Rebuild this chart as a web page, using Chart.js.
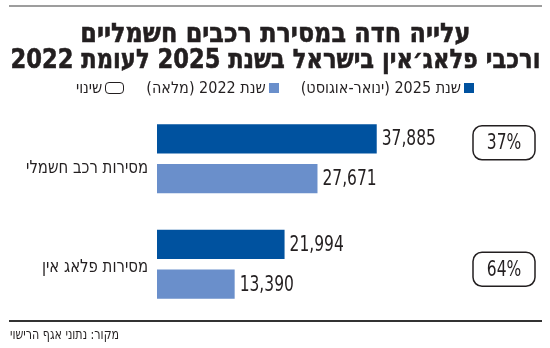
<!DOCTYPE html>
<html lang="he">
<head>
<meta charset="utf-8">
<script src="https://cdn.jsdelivr.net/npm/chart.js@4.4.0/dist/chart.umd.min.js"></script>
<style>
  body { margin: 0; background: #fff; }
  #wrap { position: relative; width: 550px; height: 348px; overflow: hidden; color: #231f20;
          font-family: 'DejaVu Sans Condensed', sans-serif; }
  #chart { position: absolute; left: 0; top: 0; }
  #topline { position: absolute; left: 9px; width: 533px; top: 5px; height: 2px; background: #9d9d9d; }
  .tline { position: absolute; left: -225px; width: 1000px; text-align: center; white-space: nowrap;
           font-family: 'DejaVu Sans', sans-serif; font-weight: bold; font-size: 27px; line-height: 28px;
           color: #231f20; -webkit-text-stroke: 0.6px #231f20; }
  .tline span { display: inline-block; transform-origin: center; }
  #legend { position: absolute; left: 0; width: 550px; top: 79px; display: flex; justify-content: center;
            gap: 22px; font-size: 16px; line-height: 18px; color: #231f20; }
  #legend .item { display: flex; align-items: center; gap: 3px; }
  #legend .sw { display: inline-block; width: 10px; height: 10px; }
  #legend .box { display: inline-block; width: 17px; height: 10px; border: 1.5px solid #231f20; border-radius: 4px; }
  #bottomline { position: absolute; left: 9px; width: 533px; top: 320px; height: 1.5px; background: #333; }
  #source { position: absolute; left: 10px; top: 326px; font-size: 14px; color: #231f20;
            transform: scaleX(0.88); transform-origin: left; }
</style>
</head>
<body>
<div id="wrap">
  <div id="topline"></div>
  <canvas id="chart" width="550" height="348"></canvas>
  <div class="tline" id="t1" dir="rtl" style="top:19px"><span>עלייה חדה במסירת רכבים חשמליים</span></div>
  <div class="tline" id="t2" dir="rtl" style="top:45px"><span>ורכבי פלאג׳אין בישראל בשנת 2025 לעומת 2022</span></div>
  <div id="legend" dir="rtl"></div>
  <div id="bottomline"></div>
  <div id="source" dir="rtl">מקור: נתוני אגף הרישוי</div>
</div>
<script>
// data
const categories = ['מסירות רכב חשמלי', 'מסירות פלאג אין'];
const seriesNames = ['שנת 2025 (ינואר-אוגוסט)', 'שנת 2022 (מלאה)'];
const values2025 = [37885, 21994];
const values2022 = [27671, 13390];
const changeLabels = ['37%', '64%'];
const changeName = 'שינוי';

const colors = ['#00529f', '#6a8fcb'];
const numFont = "'DejaVu Sans Condensed', sans-serif";

// squeeze the title lines to the width of the original (its font is narrower than DejaVu)
const titleWidths = { t1: 390, t2: 530 };
Object.keys(titleWidths).forEach(id => {
    const s = document.querySelector('#' + id + ' span');
    const w = s.getBoundingClientRect().width;
    s.style.transform = 'scaleX(' + (titleWidths[id] / w) + ')';
});

// legend
const legendEl = document.getElementById('legend');
seriesNames.forEach((name, i) => {
    const item = document.createElement('span');
    item.className = 'item';
    item.innerHTML = '<i class="sw" style="background:' + colors[i] + '"></i><span>' + name + '</span>';
    legendEl.appendChild(item);
});
const chItem = document.createElement('span');
chItem.className = 'item';
chItem.innerHTML = '<i class="box"></i><span>' + changeName + '</span>';
legendEl.appendChild(chItem);

// the group labels and change boxes sit a little off the group centre in the original
const catNudge = [10, 3];
const boxNudge = [-16, 5];

function narrowText(ctx, text, x, y, sx) {
    ctx.save();
    ctx.translate(x, y);
    ctx.scale(sx, 1);
    ctx.fillText(text, 0, 0);
    ctx.restore();
}

const labelsPlugin = {
    id: 'labels',
    afterDatasetsDraw(chart) {
        const ctx = chart.ctx;
        const yScale = chart.scales.y;
        ctx.save();
        ctx.fillStyle = '#231f20';
        ctx.textBaseline = 'middle';

        // value labels at the end of each bar
        ctx.direction = 'ltr';
        ctx.textAlign = 'left';
        ctx.font = '21px ' + numFont;
        chart.data.datasets.forEach((ds, di) => {
            chart.getDatasetMeta(di).data.forEach((bar, i) => {
                narrowText(ctx, ds.data[i].toLocaleString('en-US'), bar.x + 5, bar.y + 1, 0.82);
            });
        });

        // category names left of the bars
        ctx.direction = 'rtl';
        ctx.textAlign = 'right';
        ctx.font = '18px ' + numFont;
        categories.forEach((c, i) => {
            narrowText(ctx, c, chart.chartArea.left - 9, yScale.getPixelForValue(i) + catNudge[i], 0.92);
        });

        // change boxes
        ctx.direction = 'ltr';
        ctx.textAlign = 'center';
        ctx.font = '21px ' + numFont;
        ctx.strokeStyle = '#231f20';
        ctx.lineWidth = 1.5;
        changeLabels.forEach((t, i) => {
            const cy = yScale.getPixelForValue(i) + boxNudge[i];
            const cx = 504;
            ctx.beginPath();
            ctx.roundRect(cx - 31, cy - 17, 62, 34, 9);
            ctx.stroke();
            narrowText(ctx, t, cx, cy + 1, 0.82);
        });
        ctx.restore();
    }
};

new Chart(document.getElementById('chart'), {
    type: 'bar',
    data: {
        labels: categories,
        datasets: [
            { label: seriesNames[0], data: values2025, backgroundColor: colors[0],
              categoryPercentage: 0.754, barPercentage: 0.73 },
            { label: seriesNames[1], data: values2022, backgroundColor: colors[1],
              categoryPercentage: 0.754, barPercentage: 0.73 }
        ]
    },
    options: {
        indexAxis: 'y',
        responsive: false,
        animation: false,
        layout: { padding: { left: 157, right: 103, top: 106, bottom: 31 } },
        scales: {
            x: { display: false, min: 0, max: 50000 },
            y: { display: false }
        },
        plugins: {
            legend: { display: false },
            tooltip: { enabled: false }
        }
    },
    plugins: [labelsPlugin]
});
</script>
</body>
</html>
